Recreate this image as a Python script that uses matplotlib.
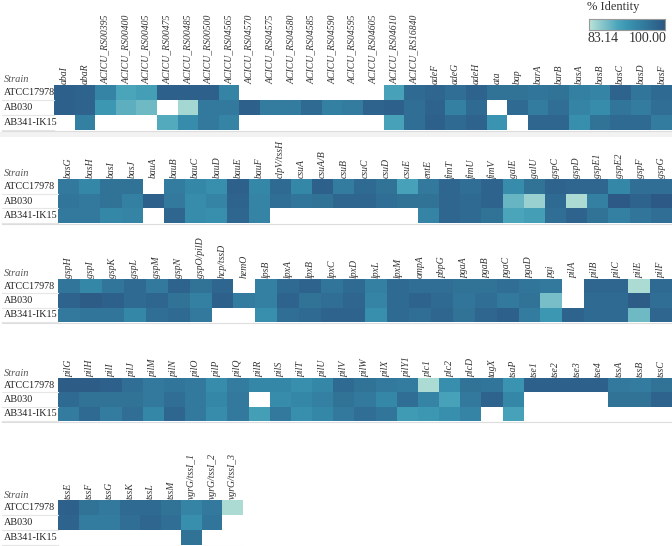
import numpy as np
import matplotlib
matplotlib.use("Agg")
import matplotlib.pyplot as plt
from matplotlib.colors import LinearSegmentedColormap

nan = np.nan
strains = ["ATCC17978", "AB030", "AB341-IK15"]

# panel 1
genes1 = ["abaI", "abaR", "ACICU_RS00395", "ACICU_RS00400", "ACICU_RS00405", "ACICU_RS00475",
          "ACICU_RS00485", "ACICU_RS00500", "ACICU_RS04565", "ACICU_RS04570", "ACICU_RS04575",
          "ACICU_RS04580", "ACICU_RS04585", "ACICU_RS04590", "ACICU_RS04595", "ACICU_RS04605",
          "ACICU_RS04610", "ACICU_RS16840", "adeF", "adeG", "adeH", "ata", "bap", "barA", "barB",
          "basA", "basB", "basC", "basD", "basF"]
atcc1 = [99, 98.5, 94, 89.5, 90.5, 99, 99, 99, 94, nan, nan, nan, nan, nan, nan, nan,
         90, 97.5, 98, 97, 98.5, 96.5, 96.5, 96, 96.5, 94.5, 94, 98.5, 96, 97.5]
ab030_1 = [99, 98.5, 91.5, 88.5, 87.5, nan, 84.5, 95.5, 95.5, 99, 95, 95, 97.5, 94.5, 95, 98.5,
           99, 97, 98.5, 94.5, 97.5, nan, 97.5, 95, 97, 94, 93, 96, 95, 97]
ab341_1 = [nan, 94.5, nan, nan, nan, 89, 93, 95.5, 94, nan, nan, nan, nan, nan, nan, nan,
           90, 97, 99, 97.5, 98.5, 92, nan, 98, 98, 92.5, 96.5, 97.5, 97.5, 95]

# panel 2
genes2 = ["basG", "basH", "basI", "basJ", "bauA", "bauB", "bauC", "bauD", "bauE", "bauF",
          "clpV/tssH", "csuA", "csuA/B", "csuB", "csuC", "csuD", "csuE", "entE", "fimT", "fimU",
          "fimV", "galE", "galU", "gspC", "gspD", "gspE1", "gspE2", "gspF", "gspG"]
atcc2 = [95.5, 93.5, 96.5, 96.5, nan, 95, 93.5, 92.5, 99, 93.5, 97.5, 93.5, 99, 95, 97.5,
         96.5, 90, 95.5, 98, 97, 98.5, 93, 96.5, 98.5, 98, 98, 93.5, 97, 97]
ab030_2 = [96, 95.5, 96.5, 94.5, 99, 95.5, 93, 94, 98.5, 94, 97, 96, 96.5, 98, 98, 97, 96.5,
           96.5, 98, 97.5, 98.5, 88, 85, 97.5, 84, 94.5, 100, 98.5, 100]
ab341_2 = [95.5, 95.5, 93.5, 94, nan, 98, 93, 92.5, 98, 94, nan, nan, nan, nan, nan, nan, nan,
           94, 98, 97.5, 96.5, 89.5, 90.5, 97, 98.5, 96.5, 94.5, 96, 97]

# panel 3
genes3 = ["gspH", "gspI", "gspK", "gspL", "gspM", "gspN", "gspO/pilD", "hcp/tssD", "hemO",
          "lpsB", "lpxA", "lpxB", "lpxC", "lpxD", "lpxL", "lpxM", "ompA", "pbpG", "pgaA", "pgaB",
          "pgaC", "pgaD", "pgi", "pilA", "pilB", "pilC", "pilE", "pilF"]
atcc3 = [96, 93.5, 96, 97.5, 95.5, 98.5, 96.5, 98, nan, 94.5, 97.5, 98.5, 96, 97.5, 94.5, 97.5,
         97, 97, 96.5, 96.5, 97, 96, 95.5, nan, 98, 98, 84, 97.5]
ab030_3 = [98.5, 99.5, 99, 97.5, 98, 96.5, 94.5, 99, 95, 94.5, 98.5, 96.5, 97, 98, 94, 97.5,
           98.5, 97.5, 96, 97, 95.5, 96.5, 87, nan, 97.5, 97.5, 99.5, 97]
ab341_3 = [95.5, 96, 96, 93.5, 97, 97.5, 95.5, nan, nan, 92.5, 97, 97.5, 98.5, 98.5, 92.5, 97.5,
           97, 98, 96.5, 98, 99, 95, 91.5, 98.5, 97.5, 97.5, 87.5, 98]

# panel 4
genes4 = ["pilG", "pilH", "pilI", "pilJ", "pilM", "pilN", "pilO", "pilP", "pilQ", "pilR", "pilS",
          "pilT", "pilU", "pilV", "pilW", "pilX", "pilY1", "plc1", "plc2", "plcD", "tagX", "tsaP",
          "tse1", "tse2", "tse3", "tse4", "tssA", "tssB", "tssC"]
atcc4 = [99.5, 99.5, 99, 97, 95.5, 96, 95.5, 93, 95, 93.5, 93.5, 92.5, 93.5, 97.5, 96.5, 95.5,
         95, 84, 92.5, 96.5, 96, 92, 99, 99, 99, 99, 95.5, 95, 96.5]
ab030_4 = [97.5, 96.5, 96.5, 96.5, 95.5, 97, 95.5, 93.5, 95.5, nan, 93, 93.5, 94.5, 96.5, 95.5,
           93.5, 97, 94, 90, 95.5, 98.5, 93.5, nan, nan, nan, nan, 96.5, 96.5, 98.5]
ab341_4 = [95, 97.5, 95, 97, 93.5, 98, 95.5, 93, 95.5, 90.5, 95.5, 92.5, 93.5, 95.5, 97, 96,
           91, 91.5, 92.5, 94, nan, 90, nan, nan, nan, nan, nan, nan, nan]

# panel 5
genes5 = ["tssE", "tssF", "tssG", "tssK", "tssL", "tssM", "vgrG/tssI_1", "vgrG/tssI_2", "vgrG/tssI_3"]
atcc5 = [99, 96.5, 95.5, 97.5, 97.5, 96.5, 94, 95.5, 84]
ab030_5 = [98.5, 95, 95, 97, 98, 97, 92.5, 96, nan]
ab341_5 = [nan, nan, nan, nan, nan, nan, 96.5, nan, nan]

vmin, vmax = 83.14, 100.00

cmap = LinearSegmentedColormap.from_list("blueteal", [
    "#bce4d8", "#95cecf", "#72bac6", "#4ba5ba", "#3b96b2", "#3586a7", "#32779b", "#2f6790", "#2c5985"])

W, H = 672, 546
fig = plt.figure(figsize=(W / 100, H / 100), dpi=100)
serif = "Liberation Serif"


def fx(px):
    return px / W


def fy(py):
    return 1 - py / H


def panel(genes, rows, x0, x1, y0, y1, strain_y):
    data = np.array(rows, dtype=float)
    ax = fig.add_axes([fx(x0), fy(y1), fx(x1 - x0), (y1 - y0) / H])
    ax.pcolormesh(np.ma.masked_invalid(data), cmap=cmap, vmin=vmin, vmax=vmax)
    ax.set_xlim(0, len(genes))
    ax.set_ylim(3, 0)
    ax.set_axis_off()
    for i, g in enumerate(genes):
        ax.text(i + 0.5, -0.08, g, rotation=90, ha="center", va="bottom", fontsize=7,
                style="italic", family=serif, color="#333333")
    rh = (y1 - y0) / 3
    for j, s in enumerate(strains):
        fig.text(fx(4), fy(y0 + rh * (j + 0.5)), s, ha="left", va="center", fontsize=7.3,
                 family=serif, color="#222222")
        yl = fy(y0 + rh * (j + 1))
        fig.add_artist(plt.Line2D([fx(2), fx(x0)], [yl, yl], color="#e6e6e6", lw=0.8))
    fig.text(fx(4), fy(strain_y), "Strain", ha="left", va="center", fontsize=7.5,
             style="italic", family=serif, color="#555555")
    yl = fy(y1 + 0.5)
    fig.add_artist(plt.Line2D([fx(2), fx(x1)], [yl, yl], color="#dddddd", lw=0.8))


panel(genes1, [atcc1, ab030_1, ab341_1], 54, 672, 85, 130, 79)
panel(genes2, [atcc2, ab030_2, ab341_2], 58, 672, 179, 223, 174)
panel(genes3, [atcc3, ab030_3, ab341_3], 58, 672, 279, 322, 274)
panel(genes4, [atcc4, ab030_4, ab341_4], 58, 672, 378, 421, 373)
panel(genes5, [atcc5, ab030_5, ab341_5], 58, 243, 500, 545, 496)

# light band under the first panel
band = fig.add_axes([0, fy(137), 1, 5 / H])
band.set_facecolor("#f2f2f2")
band.set_xticks([])
band.set_yticks([])
for sp in band.spines.values():
    sp.set_visible(False)

# colour legend
fig.text(fx(587), fy(7), "% Identity", ha="left", va="center", fontsize=9, family=serif, color="#333333")
cax = fig.add_axes([fx(589), fy(30), fx(76), 11 / H])
cax.imshow(np.linspace(vmin, vmax, 200)[None, :], aspect="auto", cmap=cmap, vmin=vmin, vmax=vmax)
cax.set_xticks([])
cax.set_yticks([])
for sp in cax.spines.values():
    sp.set_color("#999999")
    sp.set_linewidth(0.8)
fig.text(fx(588), fy(39), "83.14", ha="left", va="center", fontsize=10, family=serif, color="#333333")
fig.text(fx(667), fy(39), "100.00", ha="right", va="center", fontsize=10, family=serif, color="#333333")

fig.savefig("out.png", dpi=100)
